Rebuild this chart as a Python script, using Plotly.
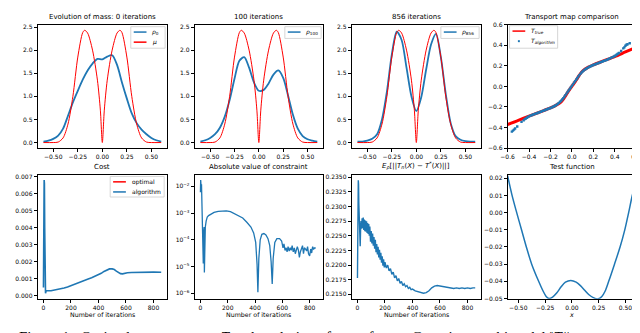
import plotly.graph_objects as go
from plotly.subplots import make_subplots

W, H = 640, 333
BLUE = '#1f77b4'
RED = 'red'
FONT = 'DejaVu Sans'

# --- densities (top row) ---
x_rho = [-0.6, -0.55, -0.5, -0.45, -0.4, -0.35, -0.3, -0.25, -0.2, -0.15, -0.1, -0.05, 0.0,
         0.05, 0.1, 0.15, 0.2, 0.25, 0.3, 0.35, 0.4, 0.45, 0.5, 0.55, 0.6]
rho_0 = [0.02, 0.04, 0.08, 0.15, 0.3, 0.58, 0.87, 1.12, 1.36, 1.56, 1.71, 1.81, 1.80,
         1.86, 1.89, 1.68, 1.30, 0.95, 0.63, 0.42, 0.28, 0.18, 0.10, 0.05, 0.02]
rho_100 = [0.02, 0.05, 0.10, 0.18, 0.32, 0.56, 0.92, 1.38, 1.77, 1.85, 1.62, 1.30, 1.12,
           1.14, 1.28, 1.47, 1.56, 1.40, 1.02, 0.60, 0.30, 0.14, 0.07, 0.04, 0.02]
rho_856 = [0.02, 0.02, 0.04, 0.08, 0.18, 0.50, 1.10, 1.90, 2.40, 2.22, 1.62, 1.00, 0.68,
           0.98, 1.58, 2.12, 2.35, 1.85, 1.05, 0.42, 0.14, 0.06, 0.03, 0.02, 0.02]
x_mu = [-0.6, -0.5, -0.45, -0.4, -0.35, -0.3, -0.25, -0.2, -0.18, -0.15, -0.1, -0.05, -0.02, 0.0,
        0.02, 0.05, 0.1, 0.15, 0.18, 0.2, 0.25, 0.3, 0.35, 0.4, 0.45, 0.5, 0.6]
mu = [0.0, 0.0, 0.01, 0.1, 0.4, 1.0, 1.85, 2.38, 2.43, 2.37, 2.0, 1.35, 0.7, 0.0,
      0.7, 1.35, 2.0, 2.37, 2.43, 2.38, 1.85, 1.0, 0.4, 0.1, 0.01, 0.0, 0.0]

# --- transport maps ---
x_true = [-0.6, -0.5, -0.4, -0.3, -0.2, -0.15, -0.1, -0.07, -0.04, 0.0, 0.04, 0.07, 0.1, 0.15,
          0.2, 0.3, 0.4, 0.5, 0.6]
t_true = [-0.372, -0.33, -0.29, -0.25, -0.21, -0.185, -0.15, -0.11, -0.06, 0.0, 0.06, 0.11, 0.15,
          0.185, 0.21, 0.25, 0.29, 0.335, 0.38]
x_alg = [-0.56, -0.55, -0.54, -0.53, -0.51, -0.47, -0.45, -0.44, -0.43, -0.42, -0.41, -0.40,
         -0.39, -0.38, -0.37, -0.36, -0.35, -0.34, -0.33, -0.32, -0.31, -0.30, -0.29, -0.28,
         -0.27, -0.26, -0.25, -0.24, -0.23, -0.22, -0.21, -0.20, -0.19, -0.18, -0.17, -0.16,
         -0.15, -0.14, -0.13, -0.12, -0.11, -0.10, -0.09, -0.08, -0.07, -0.06, -0.05, -0.04,
         -0.03, -0.02, -0.01, 0.0, 0.01, 0.02, 0.03, 0.04, 0.05, 0.06, 0.07, 0.08, 0.09, 0.10,
         0.11, 0.12, 0.13, 0.14, 0.15, 0.16, 0.17, 0.18, 0.19, 0.20, 0.21, 0.22, 0.23, 0.24,
         0.25, 0.26, 0.27, 0.28, 0.29, 0.30, 0.31, 0.32, 0.33, 0.34, 0.35, 0.36, 0.37, 0.38,
         0.39, 0.40, 0.41, 0.42, 0.43, 0.44, 0.46, 0.48, 0.49, 0.50, 0.51, 0.52, 0.54]
t_alg = [-0.44, -0.43, -0.42, -0.41, -0.39, -0.345, -0.33, -0.318, -0.312, -0.305, -0.298, -0.292,
         -0.287, -0.282, -0.278, -0.274, -0.27, -0.266, -0.262, -0.258, -0.254, -0.25, -0.246, -0.242,
         -0.238, -0.234, -0.23, -0.226, -0.222, -0.218, -0.214, -0.21, -0.206, -0.201, -0.196, -0.19,
         -0.184, -0.177, -0.169, -0.16, -0.15, -0.14, -0.128, -0.115, -0.1, -0.085, -0.07, -0.055,
         -0.04, -0.025, -0.01, 0.005, 0.02, 0.035, 0.05, 0.065, 0.08, 0.095, 0.11, 0.122, 0.135, 0.145,
         0.155, 0.163, 0.17, 0.177, 0.183, 0.189, 0.194, 0.199, 0.204, 0.208, 0.212, 0.216, 0.22, 0.224,
         0.228, 0.232, 0.236, 0.24, 0.244, 0.248, 0.252, 0.256, 0.26, 0.265, 0.27, 0.275, 0.28, 0.285,
         0.29, 0.296, 0.302, 0.31, 0.318, 0.325, 0.345, 0.37, 0.38, 0.395, 0.405, 0.41, 0.42]

# --- cost ---
optimal_cost = 0.00138
it_cost = [0, 3, 5, 7, 9, 12, 15, 18, 22, 30, 40, 55, 70, 90, 110, 130, 150, 175, 200, 225, 250,
           275, 300, 325, 350, 375, 400, 420, 440, 460, 480, 500, 515, 530, 545, 560, 575, 590,
           610, 640, 680, 720, 760, 800, 856]
cost = [0.00048, 0.0035, 0.0068, 0.0066, 0.004, 0.0011, 0.00015, 0.00025, 0.0003, 0.00028, 0.0003,
        0.0003, 0.00032, 0.00035, 0.00038, 0.00042, 0.00046, 0.00052, 0.00059, 0.00066, 0.00074,
        0.00082, 0.0009, 0.00098, 0.00106, 0.00114, 0.00123, 0.00132, 0.00143, 0.00152, 0.00158,
        0.00158, 0.00154, 0.00145, 0.00136, 0.0013, 0.00129, 0.00132, 0.00135, 0.00137, 0.00138,
        0.0014, 0.00139, 0.00139, 0.00138]

# --- constraint ---
it_con = [0, 2, 4, 6, 8, 10, 14, 18, 21, 24, 27, 29, 32, 36, 42, 50, 60, 80, 100, 130, 160, 190,
          220, 250, 280, 310, 340, 370, 390, 405, 415, 421, 428, 438, 450, 465, 480, 495, 508, 518,
          526, 533, 545, 560, 580, 595, 605, 612, 620, 628, 635, 642, 650, 658, 665, 672, 680, 688,
          695, 702, 710, 718, 725, 732, 740, 748, 755, 762, 770, 778, 785, 792, 800, 808, 815, 822,
          830, 838, 845]
constraint = [6e-3, 1.7e-2, 1.5e-2, 8e-3, 1.2e-2, 4e-3, 5e-4, 1e-4, 1.3e-5, 2e-4, 3e-4, 6e-6, 1e-4,
              3e-4, 5e-4, 7e-4, 8e-4, 9.5e-4, 1.05e-3, 1.15e-3, 1.2e-3, 1.2e-3, 1.12e-3, 9.5e-4, 8e-4,
              6.5e-4, 4.5e-4, 3e-4, 1.8e-4, 8e-5, 1.2e-5, 1.1e-6, 2e-5, 1e-4, 1.6e-4, 1.7e-4, 1.5e-4,
              1.1e-4, 6e-5, 1.5e-5, 2.2e-6, 2e-5, 8e-5, 1.1e-4, 1.1e-4, 9e-5, 5e-5, 7e-5, 4e-5, 5e-5,
              3.5e-5, 5.5e-5, 3.8e-5, 5e-5, 4e-5, 6e-5, 3.5e-5, 5e-5, 3e-5, 4.5e-5, 5.5e-5, 4e-5,
              2.2e-5, 3.5e-5, 5e-5, 6e-5, 3e-5, 5e-5, 4.5e-5, 3.8e-5, 5.5e-5, 3e-5, 2.5e-5, 4.5e-5,
              3.2e-5, 5.5e-5, 4.5e-5, 5e-5, 4.8e-5]

# --- E_rho |T_n - T*| ---
it_err = [0, 3, 6, 8, 10, 13, 16, 20, 23, 26, 30, 34, 38, 42, 46, 50, 54, 58, 62, 66, 70, 74, 78,
          82, 86, 90, 95, 100, 105, 110, 115, 120, 125, 130, 135, 140, 145, 150, 155, 160, 165,
          170, 175, 180, 185, 190, 195, 200, 210, 220, 230, 240, 250, 260, 270, 280, 290, 300, 310,
          320, 330, 340, 350, 360, 370, 380, 390, 400, 420, 440, 460, 480, 500, 520, 540, 560, 580,
          600, 620, 640, 660, 680, 700, 720, 740, 760, 780, 800, 820, 840, 856]
err = [0.2178, 0.2290, 0.2345, 0.2338, 0.2305, 0.2272, 0.2250, 0.2232, 0.2262, 0.2275, 0.2262,
       0.2280, 0.2263, 0.2281, 0.2260, 0.2278, 0.2258, 0.2276, 0.2257, 0.2275, 0.2255, 0.2272,
       0.2253, 0.2270, 0.2250, 0.2266, 0.2240, 0.2258, 0.2237, 0.2254, 0.2233, 0.2248, 0.2228,
       0.2243, 0.2222, 0.2236, 0.2218, 0.2231, 0.2213, 0.2226, 0.2209, 0.2221, 0.2204, 0.2215,
       0.2199, 0.2210, 0.2196, 0.2205, 0.2195, 0.2200, 0.2190, 0.2194, 0.2184, 0.2188, 0.2178,
       0.2182, 0.2173, 0.2177, 0.2169, 0.2172, 0.2165, 0.2168, 0.2163, 0.2165, 0.2160, 0.2162,
       0.2158, 0.2159, 0.2156, 0.2155, 0.2153, 0.2152, 0.2153, 0.2156, 0.2161, 0.2164, 0.2165,
       0.2164, 0.2163, 0.2162, 0.2161, 0.2160, 0.2160, 0.2161, 0.2160, 0.2161, 0.2160, 0.2161,
       0.2160, 0.2161, 0.2161]

# --- test function ---
x_test = [-0.6, -0.56, -0.515, -0.47, -0.425, -0.375, -0.31, -0.27, -0.24, -0.214, -0.18, -0.14,
          -0.1, -0.06, -0.01, 0.04, 0.08, 0.12, 0.16, 0.2, 0.247, 0.28, 0.31, 0.344, 0.398, 0.45,
          0.494, 0.53, 0.564, 0.6]
test_f = [0.0215, 0.0105, 0.0, -0.01, -0.02, -0.03, -0.04, -0.0455, -0.0488, -0.05, -0.0492, -0.0467,
          -0.0432, -0.0405, -0.0395, -0.0405, -0.0425, -0.0452, -0.0478, -0.0495, -0.0502, -0.0488,
          -0.0458, -0.04, -0.03, -0.02, -0.01, 0.0, 0.01, 0.018]


def px(x):
    return x / W


def py(y):
    return 1 - y / H


fig = make_subplots(rows=2, cols=4)

# top row
spl = dict(shape='spline', smoothing=0.8)
fig.add_trace(go.Scatter(x=x_rho, y=rho_0, mode='lines', line=dict(color=BLUE, width=1.8, **spl)), row=1, col=1)
fig.add_trace(go.Scatter(x=x_mu, y=mu, mode='lines', line=dict(color=RED, width=1, **spl)), row=1, col=1)
fig.add_trace(go.Scatter(x=x_rho, y=rho_100, mode='lines', line=dict(color=BLUE, width=1.8, **spl)), row=1, col=2)
fig.add_trace(go.Scatter(x=x_mu, y=mu, mode='lines', line=dict(color=RED, width=1, **spl)), row=1, col=2)
fig.add_trace(go.Scatter(x=x_rho, y=rho_856, mode='lines', line=dict(color=BLUE, width=1.8, **spl)), row=1, col=3)
fig.add_trace(go.Scatter(x=x_mu, y=mu, mode='lines', line=dict(color=RED, width=1, **spl)), row=1, col=3)
fig.add_trace(go.Scatter(x=x_true, y=t_true, mode='lines', line=dict(color=RED, width=3, **spl)), row=1, col=4)
fig.add_trace(go.Scatter(x=x_alg, y=t_alg, mode='markers',
                         marker=dict(color=BLUE, size=2.4, symbol='square')), row=1, col=4)

# bottom row
fig.add_hline(y=optimal_cost, line=dict(color=RED, width=1.5), row=2, col=1)
fig.add_trace(go.Scatter(x=it_cost, y=cost, mode='lines', line=dict(color=BLUE, width=1.6)), row=2, col=1)
fig.add_trace(go.Scatter(x=it_con, y=constraint, mode='lines', line=dict(color=BLUE, width=1.3)), row=2, col=2)
fig.add_trace(go.Scatter(x=it_err, y=err, mode='lines', line=dict(color=BLUE, width=1.4)), row=2, col=3)
fig.add_trace(go.Scatter(x=x_test, y=test_f, mode='lines', line=dict(color=BLUE, width=1.5, **spl)), row=2, col=4)

# axes
cols_x = [[23, 155], [183, 314], [343, 475], [502, 633]]
rows_y = [[13, 139], [166, 293]]
for r in (1, 2):
    for c in (1, 2, 3, 4):
        fig.update_xaxes(domain=[px(cols_x[c - 1][0]), px(cols_x[c - 1][1])], row=r, col=c)
        fig.update_yaxes(domain=[py(rows_y[r - 1][1]), py(rows_y[r - 1][0])], row=r, col=c)

fig.update_xaxes(showline=True, mirror=True, linecolor='black', linewidth=0.8, showgrid=False,
                 zeroline=False, ticks='outside', ticklen=3, tickwidth=0.7, tickcolor='black',
                 tickfont=dict(size=6, color='black', family=FONT))
fig.update_yaxes(showline=True, mirror=True, linecolor='black', linewidth=0.8, showgrid=False,
                 zeroline=False, ticks='outside', ticklen=3, tickwidth=0.7, tickcolor='black',
                 tickfont=dict(size=6, color='black', family=FONT))

for c in (1, 2, 3):
    fig.update_xaxes(range=[-0.66, 0.66], tickvals=[-0.5, -0.25, 0, 0.25, 0.5], tickformat='.2f', row=1, col=c)
    fig.update_yaxes(range=[-0.12, 2.55], dtick=0.5, tick0=0, tickformat='.1f', row=1, col=c)
fig.update_xaxes(range=[-0.6, 0.6], dtick=0.2, tick0=0, tickformat='.1f', row=1, col=4)
fig.update_yaxes(range=[-0.6, 0.6], dtick=0.2, tick0=0, tickformat='.1f', row=1, col=4)

for c in (1, 2, 3):
    fig.update_xaxes(range=[-42.8, 898.8], dtick=200, tick0=0, row=2, col=c)
fig.update_yaxes(range=[-0.00018, 0.00713], dtick=0.001, tick0=0, tickformat='.3f', row=2, col=1)
fig.update_yaxes(type='log', range=[-6.21, -1.56], tickvals=[1e-6, 1e-5, 1e-4, 1e-3, 1e-2],
                 ticktext=['10<sup>−6</sup>', '10<sup>−5</sup>', '10<sup>−4</sup>', '10<sup>−3</sup>',
                           '10<sup>−2</sup>'], row=2, col=2)
fig.update_yaxes(range=[0.21423, 0.23547], dtick=0.0025, tick0=0.215, tickformat='.4f', row=2, col=3)
fig.update_xaxes(range=[-0.6, 0.6], tickvals=[-0.5, -0.25, 0, 0.25, 0.5], tickformat='.2f', row=2, col=4)
fig.update_yaxes(range=[-0.0502, 0.0222], dtick=0.01, tick0=0, tickformat='.2f', row=2, col=4)

# titles
titles = ['Evolution of mass: 0 iterations', '100 iterations', '856 iterations', 'Transport map comparison',
          'Cost', 'Absolute value of constraint',
          '<i>E<sub>ρ</sub></i>[||<i>T<sub>n</sub></i>(<i>X</i>) − <i>T</i><sup>*</sup>(<i>X</i>)||]',
          'Test function']
annotations = []
for i, t in enumerate(titles):
    r, c = i // 4, i % 4
    xc = (cols_x[c][0] + cols_x[c][1]) / 2
    annotations.append(dict(text=t, x=px(xc), y=py(rows_y[r][0] - 2), xref='paper', yref='paper',
                            xanchor='center', yanchor='bottom', showarrow=False,
                            font=dict(size=7, family=FONT, color='black')))
for c, t in enumerate(['Number of iterations'] * 3 + ['<i>x</i>']):
    xc = (cols_x[c][0] + cols_x[c][1]) / 2
    annotations.append(dict(text=t, x=px(xc), y=py(309), xref='paper', yref='paper',
                            xanchor='center', yanchor='middle', showarrow=False,
                            font=dict(size=6.3, family=FONT, color='black')))

# legends drawn by hand so the handles stay short, matplotlib style
shapes = []
legends = [
    ([118, 15, 153, 37], [('line', BLUE, '<i>ρ</i><sub>0</sub>'), ('line', RED, '<i>μ</i>')]),
    ([275, 15, 312, 27], [('line', BLUE, '<i>ρ</i><sub>100</sub>')]),
    ([434, 15, 473, 27], [('line', BLUE, '<i>ρ</i><sub>856</sub>')]),
    ([504, 14, 553, 37], [('line', RED, '<i>T<sub>true</sub></i>'), ('marker', BLUE, '<i>T<sub>algorithm</sub></i>')]),
    ([97, 168, 152, 189], [('line', RED, 'optimal'), ('line', BLUE, 'algorithm')]),
]
for box, items in legends:
    x0, y0, x1, y1 = box
    shapes.append(dict(type='rect', xref='paper', yref='paper', x0=px(x0), x1=px(x1), y0=py(y1), y1=py(y0),
                       line=dict(color='#cccccc', width=0.8), fillcolor='rgba(255,255,255,0.85)', layer='above'))
    for k, (kind, color, label) in enumerate(items):
        yy = y0 + 5.5 + k * 10.3
        if kind == 'line':
            shapes.append(dict(type='line', xref='paper', yref='paper', x0=px(x0 + 3), x1=px(x0 + 16),
                               y0=py(yy), y1=py(yy), line=dict(color=color, width=1.5), layer='above'))
        else:
            shapes.append(dict(type='rect', xref='paper', yref='paper', x0=px(x0 + 8.5), x1=px(x0 + 10.5),
                               y0=py(yy + 1), y1=py(yy - 1), line=dict(width=0), fillcolor=color, layer='above'))
        annotations.append(dict(text=label, x=px(x0 + 20), y=py(yy), xref='paper', yref='paper',
                                xanchor='left', yanchor='middle', showarrow=False,
                                font=dict(size=6, family=FONT, color='black')))

# caption of the page, cut off at the bottom edge
annotations.append(dict(text='Figure 1:  Optimal transport map <i>T</i> and evolution of mass from a Gaussian to a bimodal ‖<i>T</i>#',
                        x=px(2), y=py(322), xref='paper', yref='paper', xanchor='left', yanchor='top',
                        showarrow=False, font=dict(size=15, family='Liberation Serif', color='black')))

fig.update_layout(width=W, height=H, margin=dict(l=0, r=0, t=0, b=0), showlegend=False,
                  plot_bgcolor='white', paper_bgcolor='white', annotations=annotations,
                  shapes=list(fig.layout.shapes) + shapes, font=dict(family=FONT))

fig.write_html("out.html")
